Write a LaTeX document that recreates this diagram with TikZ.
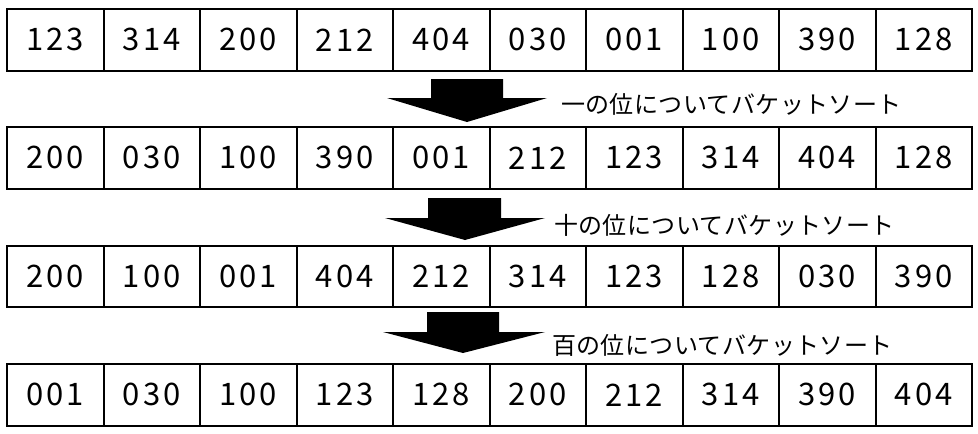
\documentclass[tikz,border=0pt]{standalone}
\usepackage{fontspec}
\newfontfamily\jpfont[LetterSpace=1.7]{Noto Sans CJK JP}
\newfontfamily\numfont[LetterSpace=10]{Noto Sans CJK JP}
\begin{document}
\begin{tikzpicture}[x=1pt,y=-1pt,
  cellbox/.style={draw=black,line width=2pt,minimum width=96.5pt,minimum height=61.5pt,inner sep=0pt,
    font=\numfont\fontsize{31}{31}\selectfont},
  lbl/.style={anchor=west,inner sep=0pt,font=\jpfont\fontsize{24}{24}\selectfont},
  bigarrow/.style={fill=black}]
\useasboundingbox (0,0) rectangle (978,434);
% row tops
\def\rowA{9}\def\rowB{127}\def\rowC{245.5}\def\rowD{364}
\foreach \v [count=\i] in {123,314,200,212,404,030,001,100,390,128}
  \node[cellbox] (a\i) at ({7+96.5*(\i-0.5)},{\rowA+30.75}) {\v};
\foreach \v [count=\i] in {200,030,100,390,001,212,123,314,404,128}
  \node[cellbox] (b\i) at ({7+96.5*(\i-0.5)},{\rowB+30.75}) {\v};
\foreach \v [count=\i] in {200,100,001,404,212,314,123,128,030,390}
  \node[cellbox] (c\i) at ({7+96.5*(\i-0.5)},{\rowC+30.75}) {\v};
\foreach \v [count=\i] in {001,030,100,123,128,200,212,314,390,404}
  \node[cellbox] (d\i) at ({7+96.5*(\i-0.5)},{\rowD+30.75}) {\v};
% arrows
\fill[bigarrow] (431,79) -- (503,79) -- (503,98) -- (547,98) -- (467,122) -- (387,98) -- (431,98) -- cycle;
\fill[bigarrow] (428,198) -- (501,198) -- (501,218) -- (545,218) -- (465,240) -- (385,218) -- (428,218) -- cycle;
\fill[bigarrow] (427,312) -- (499,312) -- (499,332) -- (545,332) -- (463,353) -- (383,332) -- (427,332) -- cycle;
% labels
\node[lbl] (l1) at (561,104) {一の位についてバケットソート};
\node[lbl] (l2) at (554,225) {十の位についてバケットソート};
\node[lbl] (l3) at (552,345) {百の位についてバケットソート};
\end{tikzpicture}
\end{document}
